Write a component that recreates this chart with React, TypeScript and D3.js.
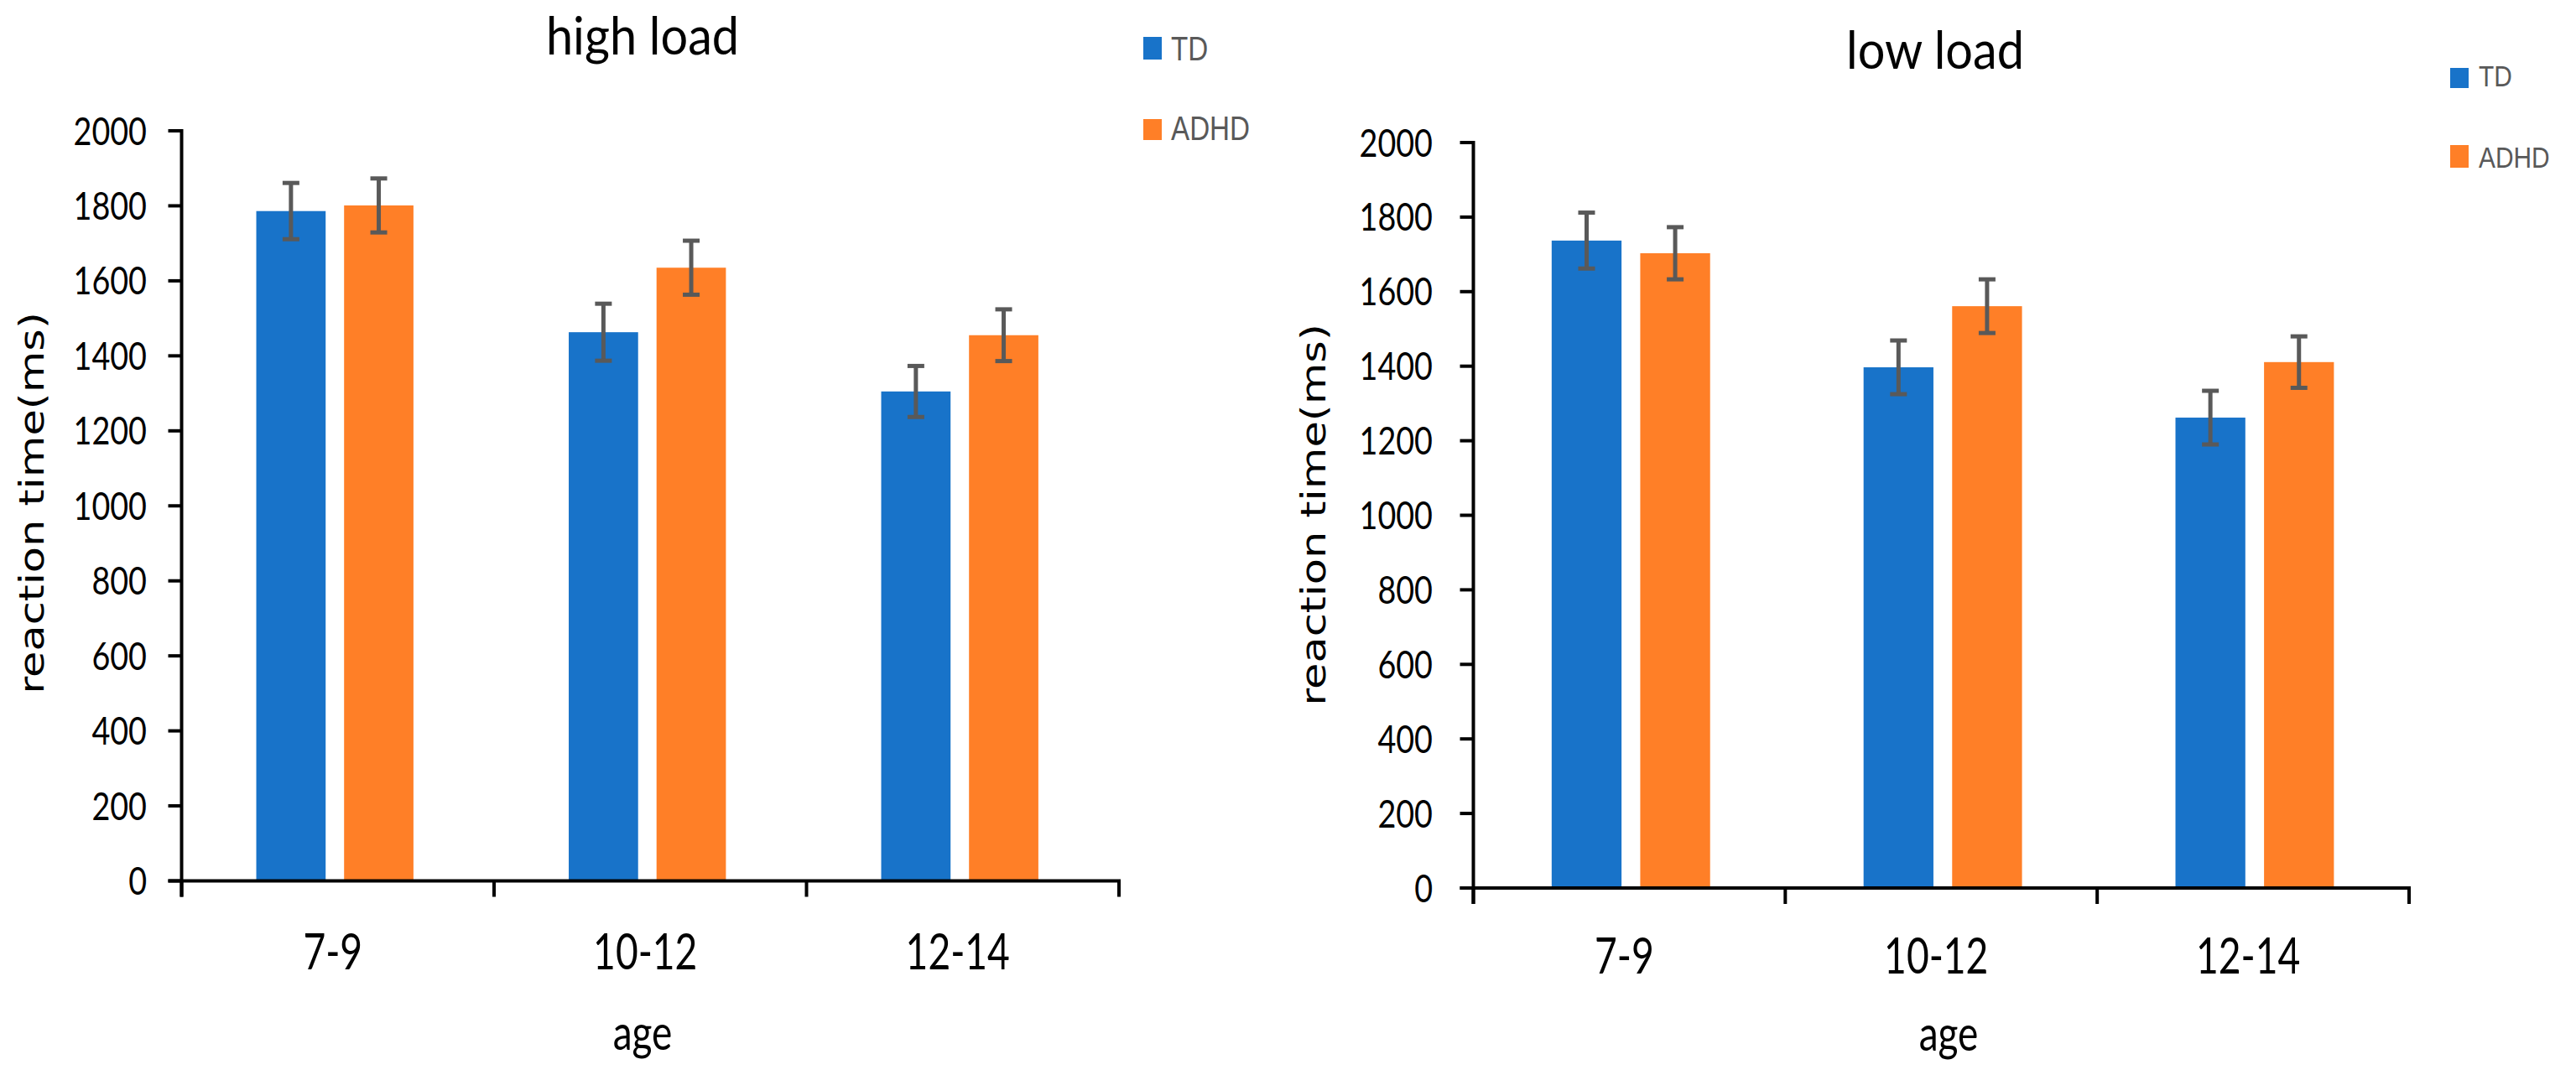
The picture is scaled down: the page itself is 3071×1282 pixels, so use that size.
import React from "react";
import * as d3 from "d3";

// ---------- data ----------
const categories = ["7-9", "10-12", "12-14"];
const seriesNames = ["TD", "ADHD"];
const highTD = [1786, 1463, 1305];
const highTDErr = [75, 76, 68];
const highADHD = [1801, 1635, 1455];
const highADHDErr = [72, 72, 69];
const lowTD = [1737, 1397, 1262];
const lowTDErr = [75, 72, 72];
const lowADHD = [1703, 1561, 1411];
const lowADHDErr = [70, 72, 69];
const yTicks = [0, 200, 400, 600, 800, 1000, 1200, 1400, 1600, 1800, 2000];
const yDomain = [0, 2000];

const COLORS = ["#1873C9", "#FF7F27"];
const ERR_COLOR = "#595959";
const FONT = "Lato, 'Liberation Sans', sans-serif";
const LABEL_FONT = "'DejaVu Sans', Verdana, sans-serif";

type Layout = {
  axisX: number;
  axisEnd: number;
  top: number;
  base: number;
  tdOff: number;
  adOff: number;
  barW: number;
  title: string;
  titleX: number;
  titleY: number;
  ylabX: number;
  ylabY: number;
  tickRight: number;
  catY: number;
  ageX: number;
  ageY: number;
  legX: number;
  legTextX: number;
  legSq: [number, number][];
  legBase: number[];
  legFont: number;
};

const T = ({ x, y, size, anchor = "start", sx = 0.82, fill = "#000", family = FONT, children }: any) => (
  <text
    transform={`translate(${x},${y}) scale(${sx},1)`}
    fontSize={size}
    fontFamily={family}
    textAnchor={anchor}
    fill={fill}
  >
    {children}
  </text>
);

function Panel({ L, td, tdErr, ad, adErr }: { L: Layout; td: number[]; tdErr: number[]; ad: number[]; adErr: number[] }) {
  const y = d3.scaleLinear().domain(yDomain).range([L.base, L.top]);
  const x = d3.scaleBand<string>().domain(categories).range([L.axisX, L.axisEnd]).padding(0);
  const bw = x.bandwidth();
  const series = [
    { vals: td, errs: tdErr, off: L.tdOff, color: COLORS[0] },
    { vals: ad, errs: adErr, off: L.adOff, color: COLORS[1] },
  ];
  const xTickPos = [...categories.map((c) => x(c)!), L.axisEnd];
  return (
    <g>
      {/* bars */}
      {series.map((s, si) =>
        categories.map((c, i) => {
          const x0 = x(c)! + s.off * bw;
          const w = L.barW * bw;
          return (
            <rect key={`b${si}-${i}`} x={x0} y={y(s.vals[i])} width={w} height={y(0) - y(s.vals[i])} fill={s.color} />
          );
        })
      )}
      {/* error bars */}
      {series.map((s, si) =>
        categories.map((c, i) => {
          const cx = x(c)! + s.off * bw + (L.barW * bw) / 2;
          const hi = y(s.vals[i] + s.errs[i]);
          const lo = y(s.vals[i] - s.errs[i]);
          return (
            <g key={`e${si}-${i}`} stroke={ERR_COLOR} strokeWidth={5}>
              <line x1={cx} x2={cx} y1={hi} y2={lo} />
              <line x1={cx - 10} x2={cx + 10} y1={hi} y2={hi} />
              <line x1={cx - 10} x2={cx + 10} y1={lo} y2={lo} />
            </g>
          );
        })
      )}
      {/* y axis */}
      <line x1={L.axisX} x2={L.axisX} y1={y(2000) - 2} y2={L.base + 19} stroke="#000" strokeWidth={4} />
      {yTicks.map((t) => (
        <g key={`yt${t}`}>
          <line x1={L.axisX - 16} x2={L.axisX} y1={y(t)} y2={y(t)} stroke="#000" strokeWidth={4} />
          <T x={L.tickRight} y={y(t) + 16.5} size={46} anchor="end" sx={0.82}>
            {t}
          </T>
        </g>
      ))}
      {/* x axis */}
      <line x1={L.axisX - 16} x2={L.axisEnd + 2} y1={L.base} y2={L.base} stroke="#000" strokeWidth={4} />
      {xTickPos.map((p, i) => (
        <line key={`xt${i}`} x1={p} x2={p} y1={L.base} y2={L.base + 19} stroke="#000" strokeWidth={4} />
      ))}
      {categories.map((c) => (
        <T key={`c${c}`} x={x(c)! + bw / 2 - 6} y={L.catY} size={60} anchor="middle" sx={0.77}>
          {c}
        </T>
      ))}
      <T x={L.ageX} y={L.ageY} size={59} anchor="middle" sx={0.78}>
        age
      </T>
      {/* title */}
      <T x={L.titleX} y={L.titleY} size={62} anchor="middle" sx={0.93}>
        {L.title}
      </T>
      {/* y label */}
      <text
        transform={`translate(${L.ylabX},${L.ylabY}) scale(0.8,1) rotate(-90)`}
        fontSize={51}
        fontFamily={LABEL_FONT}
        textAnchor="middle"
        fill="#000"
      >
        reaction time(ms)
      </text>
      {/* legend */}
      {seriesNames.map((n, i) => (
        <g key={`lg${n}`}>
          <rect x={L.legX} y={L.legSq[i][0]} width={22} height={L.legSq[i][1] - L.legSq[i][0]} fill={COLORS[i]} />
          <T x={L.legTextX} y={L.legBase[i]} size={L.legFont} sx={0.83} fill="#595959" family="'Liberation Sans', Arial, sans-serif">
            {n}
          </T>
        </g>
      ))}
    </g>
  );
}

const leftLayout: Layout = {
  axisX: 216.5,
  axisEnd: 1334,
  top: 156,
  base: 1050.5,
  tdOff: 0.239,
  adOff: 0.52,
  barW: 0.222,
  title: "high load",
  titleX: 766,
  titleY: 65,
  ylabX: 52,
  ylabY: 600,
  tickRight: 175,
  catY: 1156,
  ageX: 766,
  ageY: 1252,
  legX: 1363,
  legTextX: 1396,
  legSq: [
    [44, 71],
    [142, 167],
  ],
  legBase: [72, 167],
  legFont: 40,
};

const rightLayout: Layout = {
  axisX: 1756.5,
  axisEnd: 2872,
  top: 170,
  base: 1059,
  tdOff: 0.251,
  adOff: 0.535,
  barW: 0.224,
  title: "low load",
  titleX: 2307,
  titleY: 82,
  ylabX: 1580,
  ylabY: 614,
  tickRight: 1708,
  catY: 1161,
  ageX: 2323,
  ageY: 1253,
  legX: 2921,
  legTextX: 2955,
  legSq: [
    [81, 105],
    [173, 200],
  ],
  legBase: [103, 200],
  legFont: 36,
};

export default function App() {
  return (
    <svg
      width={3071}
      height={1282}
      viewBox="0 0 3071 1282"
      style={{ position: "absolute", left: 0, top: 0, background: "#fff" }}
    >
      <rect x={0} y={0} width={3071} height={1282} fill="#fff" />
      <Panel L={leftLayout} td={highTD} tdErr={highTDErr} ad={highADHD} adErr={highADHDErr} />
      <Panel L={rightLayout} td={lowTD} tdErr={lowTDErr} ad={lowADHD} adErr={lowADHDErr} />
    </svg>
  );
}
